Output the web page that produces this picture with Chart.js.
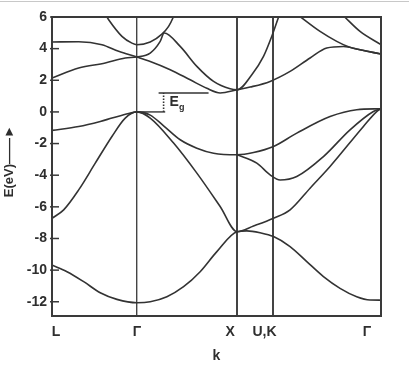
<!DOCTYPE html>
<html>
<head>
<meta charset="utf-8">
<title>Band structure</title>
<script src="https://cdn.jsdelivr.net/npm/chart.js@4.4.1/dist/chart.umd.min.js"></script>
<style>
  html, body { margin: 0; padding: 0; background: #fff; }
  #wrap { position: relative; width: 409px; height: 365px; }
  #rule { position: absolute; left: 0; top: 1px; width: 409px; height: 1px; background: #c8c8c8; }
</style>
</head>
<body>
<div id="wrap">
  <canvas id="bands" width="409" height="365"></canvas>
  <div id="rule"></div>
</div>
<script>
// symmetry points along the k path and the energy ticks
var kPoints = [0, 0.85, 1.853, 2.217, 3.293];
var kLabels = ["L", "Γ", "X", "U,K", "Γ"];
var eTicks = [-12, -10, -8, -6, -4, -2, 0, 2, 4, 6];

// valence bands (eV)
var band1K = [0, 0.15, 0.317, 0.483, 0.65, 0.85, 0.983, 1.15, 1.317, 1.483, 1.65, 1.853, 1.95, 2.083, 2.217, 2.383, 2.55, 2.717, 2.883, 3.05, 3.183, 3.293];
var band1E = [-9.68, -10.1, -10.73, -11.43, -11.85, -12.06, -12.0, -11.68, -11.05, -10.1, -8.83, -7.57, -7.52, -7.64, -7.88, -8.51, -9.46, -10.41, -11.15, -11.68, -11.89, -11.9];

var band2K = [0, 0.117, 0.267, 0.433, 0.6, 0.733, 0.85, 0.983, 1.217, 1.45, 1.683, 1.853, 2.017, 2.217, 2.383, 2.583, 2.783, 3.117, 3.25, 3.293];
var band2E = [-6.72, -6.19, -4.93, -3.24, -1.55, -0.39, 0, -0.39, -1.97, -3.87, -5.98, -7.57, -7.21, -6.72, -6.19, -4.82, -3.45, -0.92, 0.02, 0.2];

var band3K = [0, 0.267, 0.483, 0.6, 0.767, 0.85, 0.983, 1.117, 1.283, 1.45, 1.617, 1.853, 2.017, 2.217, 2.45, 2.783, 3.05, 3.293];
var band3E = [-1.17, -0.92, -0.6, -0.39, -0.1, 0, -0.2, -0.88, -1.76, -2.29, -2.61, -2.71, -2.57, -2.19, -1.34, -0.29, 0.14, 0.2];

var band4K = [1.853, 2.05, 2.183, 2.283, 2.45, 2.717, 2.983, 3.217, 3.293];
var band4E = [-2.71, -3.24, -3.98, -4.3, -4.08, -2.82, -1.13, 0.03, 0.2];

// conduction bands (eV)
var band5K = [0, 0.267, 0.533, 0.733, 0.85, 0.983, 1.083, 1.123, 1.283, 1.45, 1.617, 1.783, 1.853, 2.0, 2.117, 2.2, 2.29];
var band5E = [2.14, 2.77, 3.09, 3.41, 3.47, 3.72, 4.46, 4.99, 4.14, 2.88, 1.93, 1.46, 1.4, 2.35, 3.51, 4.78, 6.4];

var band6K = [0, 0.267, 0.5, 0.667, 0.85, 0.983, 1.183, 1.383, 1.55, 1.683, 1.853, 1.983, 2.183, 2.383, 2.583, 2.75, 2.917, 3.083, 3.293];
var band6E = [4.42, 4.44, 4.25, 3.83, 3.47, 3.19, 2.67, 2.03, 1.49, 1.2, 1.4, 1.57, 1.93, 2.56, 3.41, 4.04, 4.14, 3.93, 3.66];

var band7K = [0.54, 0.567, 0.7, 0.8, 0.85, 0.983, 1.1, 1.167, 1.21, 1.225];
var band7E = [6.1, 5.83, 4.78, 4.35, 4.25, 4.42, 4.92, 5.41, 5.94, 6.2];

var band8K = [2.467, 2.683, 2.85, 2.967, 3.083, 3.293];
var band8E = [6.1, 5.09, 4.46, 4.12, 3.93, 3.66];

var band9K = [2.917, 3.083, 3.293];
var band9E = [6.08, 5.09, 4.25];

// band gap marker
var egLowK = [0.85, 1.133];
var egLowE = [0, 0];
var egHighK = [1.067, 1.567];
var egHighE = [1.2, 1.2];
var egGapK = [1.117, 1.117];
var egGapE = [0, 1.2];

var fontFamily = "'Liberation Sans', Arial, sans-serif";

function series(ks, es) {
	return ks.map(function (k, i) { return { x: k, y: es[i] }; });
}

function band(ks, es) {
	return {
		data: series(ks, es),
		borderColor: "#333",
		borderWidth: 1.6,
		pointRadius: 0,
		fill: false,
		cubicInterpolationMode: "monotone"
	};
}

function marker(ks, es, dash) {
	return {
		data: series(ks, es),
		borderColor: "#333",
		borderWidth: dash ? 1.6 : 1.4,
		borderDash: dash || [],
		pointRadius: 0,
		fill: false,
		tension: 0
	};
}

// frame, inward ticks, k labels and the gap label
var framePlugin = {
	id: "frame",
	afterDatasetsDraw: function (chart) {
		var ctx = chart.ctx, area = chart.chartArea;
		var xs = chart.scales.x, ys = chart.scales.y;
		ctx.save();
		ctx.strokeStyle = "#3a3a3a";
		ctx.lineWidth = 2;
		ctx.strokeRect(area.left, area.top, area.right - area.left, area.bottom - area.top);

		ctx.lineWidth = 1.5;
		eTicks.forEach(function (e) {
			var py = ys.getPixelForValue(e);
			ctx.beginPath();
			ctx.moveTo(area.left - 2, py);
			ctx.lineTo(area.left + 7, py);
			ctx.stroke();
		});

		ctx.fillStyle = "#2e2e2e";
		ctx.font = "bold 14px " + fontFamily;
		ctx.textAlign = "center";
		ctx.textBaseline = "middle";
		var shift = [4, 0, -7, -9, -14];
		kPoints.forEach(function (k, i) {
			ctx.fillText(kLabels[i], xs.getPixelForValue(k) + shift[i], area.bottom + 16);
		});

		var gx = xs.getPixelForValue(egGapK[0]) + 6;
		var gy = ys.getPixelForValue((egGapE[0] + egGapE[1]) / 2);
		ctx.textAlign = "left";
		ctx.font = "bold 14px " + fontFamily;
		ctx.fillText("E", gx, gy);
		var w = ctx.measureText("E").width;
		ctx.font = "bold 9px " + fontFamily;
		ctx.fillText("g", gx + w, gy + 5);
		ctx.restore();
	}
};

var chart = new Chart(document.getElementById("bands"), {
	type: "line",
	data: {
		datasets: [
			band(band1K, band1E),
			band(band2K, band2E),
			band(band3K, band3E),
			band(band4K, band4E),
			band(band5K, band5E),
			band(band6K, band6E),
			band(band7K, band7E),
			band(band8K, band8E),
			band(band9K, band9E),
			marker(egLowK, egLowE),
			marker(egHighK, egHighE),
			marker(egGapK, egGapE, [1.5, 1.5])
		]
	},
	options: {
		responsive: false,
		animation: false,
		events: [],
		layout: { padding: { top: 17, right: 28, left: 0, bottom: 0 } },
		plugins: {
			legend: { display: false },
			tooltip: { enabled: false }
		},
		scales: {
			x: {
				type: "linear",
				min: 0,
				max: 3.293,
				afterBuildTicks: function (axis) {
					axis.ticks = kPoints.map(function (v) { return { value: v }; });
				},
				afterFit: function (axis) { axis.height = 49; },
				ticks: { display: false },
				border: { display: false },
				grid: {
					drawTicks: false,
					color: function (c) {
						return c.index > 0 && c.index < 4 ? "#444" : "rgba(0,0,0,0)";
					},
					lineWidth: function (c) { return c.index === 1 ? 1.4 : 2; }
				},
				title: {
					display: true,
					text: "k",
					color: "#2e2e2e",
					font: { family: fontFamily, size: 14, weight: "bold" },
					padding: { top: 0, bottom: 0 }
				}
			},
			y: {
				min: -12.9,
				max: 6,
				afterBuildTicks: function (axis) {
					axis.ticks = eTicks.map(function (v) { return { value: v }; });
				},
				afterFit: function (axis) { axis.width = 52; },
				ticks: {
					color: "#2e2e2e",
					padding: 5,
					font: { family: fontFamily, size: 14, weight: "bold" }
				},
				border: { display: false },
				grid: { display: false, drawTicks: false },
				title: {
					display: true,
					text: "   E(eV)\u2014\u2014\u25BA",
					color: "#2e2e2e",
					font: { family: fontFamily, size: 13, weight: "bold" },
					padding: { top: 2, bottom: 0 }
				}
			}
		}
	},
	plugins: [framePlugin]
});
</script>
</body>
</html>
